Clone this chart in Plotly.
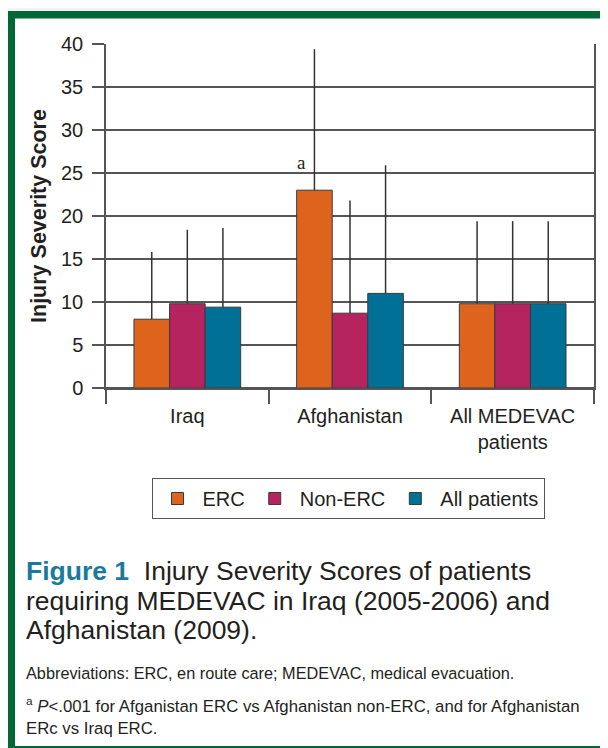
import plotly.graph_objects as go

# ---------------- data ----------------
categories = ["Iraq", "Afghanistan", "All MEDEVAC<br>patients"]
series_names = ["ERC", "Non-ERC", "All patients"]
erc_mean = [8.0, 23.0, 9.8]
nonerc_mean = [9.8, 8.7, 9.8]
all_mean = [9.4, 11.0, 9.8]
erc_upper = [15.8, 39.4, 19.4]
nonerc_upper = [18.4, 21.8, 19.4]
all_upper = [18.6, 25.9, 19.4]
y_ticks = [0, 5, 10, 15, 20, 25, 30, 35, 40]

colors = ["#DE641E", "#B5245E", "#007096"]
ink = "#231f20"
gridc = "#555555"

CHART_FONT = "Liberation Sans, Arial, sans-serif"

W, H = 608, 748
OFF = 8  # page body margin: page pixel = figure pixel + OFF
ML = 106 - OFF
MT = 44 - OFF
MR = W - (594 - OFF)
MB = H - (388 - OFF)
PW, PH = W - ML - MR, H - MT - MB


def px(xp):
    """page x pixel -> paper coordinate"""
    return (xp - OFF - ML) / PW


def py(yp):
    """page y pixel -> paper coordinate"""
    return (H - MB - (yp - OFF)) / PH


fig = go.Figure()
for name, mean, upper, col in zip(series_names,
                                  [erc_mean, nonerc_mean, all_mean],
                                  [erc_upper, nonerc_upper, all_upper],
                                  colors):
    fig.add_trace(go.Bar(
        x=categories, y=mean, name=name,
        marker=dict(color=col, line=dict(color="#3a3a3a", width=1)),
        error_y=dict(type="data", symmetric=False,
                     array=[u - m for u, m in zip(upper, mean)],
                     arrayminus=[0] * len(mean),
                     color="#333333", thickness=1.5, width=0),
    ))

# significance marker
fig.add_annotation(x=categories[1], y=26.2, xref="x", yref="y", text="a",
                   showarrow=False, xshift=-49,
                   font=dict(family="Liberation Serif, serif", size=19, color=ink))

# frame shapes
shapes = [
    dict(type="rect", xref="paper", yref="paper", x0=px(7), x1=px(700),
         y0=py(11), y1=py(760), fillcolor="#006838", line=dict(width=0),
         layer="below"),
    dict(type="rect", xref="paper", yref="paper", x0=px(15), x1=px(700),
         y0=py(18.5), y1=py(746), fillcolor="white", line=dict(width=0),
         layer="below"),
]

# caption
cap_lines = [
    ("<b><span style='color:#1A7A9E'>Figure 1</span></b>\u00a0\u00a0Injury Severity Scores of patients", 571),
    ("requiring MEDEVAC in Iraq (2005-2006) and", 601),
    ("Afghanistan (2009).", 630),
]
for txt, yc in cap_lines:
    fig.add_annotation(xref="paper", yref="paper", x=px(24), y=py(yc),
                       xanchor="left", yanchor="middle", text=txt,
                       showarrow=False,
                       font=dict(family=CHART_FONT, size=26.5, color=ink))

notes = [
    ("Abbreviations: ERC, en route care; MEDEVAC, medical evacuation.", 673, 16.3),
    ("<sup>a</sup> <i>P</i>&lt;.001 for Afganistan ERC vs Afghanistan non-ERC, and for Afghanistan", 705, 16.8),
    ("ERc vs Iraq ERC.", 728, 16.8),
]
for txt, yc, fs in notes:
    fig.add_annotation(xref="paper", yref="paper", x=px(24), y=py(yc),
                       xanchor="left", yanchor="middle", text=txt,
                       showarrow=False,
                       font=dict(family=CHART_FONT, size=fs, color=ink))

fig.update_layout(
    width=W, height=H,
    margin=dict(l=ML, r=MR, t=MT, b=MB, autoexpand=False),
    paper_bgcolor="#f3f3f3",
    plot_bgcolor="white",
    barmode="group",
    bargap=0.344,
    bargroupgap=0,
    font=dict(family=CHART_FONT, size=20, color=ink),
    shapes=shapes,
    showlegend=True,
    legend=dict(orientation="h", x=px(348), xanchor="center",
                y=py(478), yanchor="top", itemwidth=40,
                bordercolor="#555555", borderwidth=1, bgcolor="white",
                font=dict(family=CHART_FONT, size=20, color=ink),
                traceorder="normal"),
)

fig.update_xaxes(
    type="category", tickson="boundaries", ticks="outside", ticklen=14,
    tickwidth=1.5, tickcolor=gridc, showline=True, linecolor=gridc,
    linewidth=1.5, showgrid=False, ticklabelstandoff=9,
    tickfont=dict(family=CHART_FONT, size=20, color=ink),
)
fig.update_yaxes(
    range=[0, 40], tickvals=y_ticks, showgrid=True, gridcolor=gridc,
    gridwidth=1.5, zeroline=True, zerolinecolor=gridc, zerolinewidth=1.5,
    ticks="outside", ticklen=12, tickwidth=1.5, tickcolor=gridc,
    showline=True, linecolor=gridc, linewidth=1.5, mirror=True,
    ticklabelstandoff=5,
    tickfont=dict(family=CHART_FONT, size=20, color=ink),
    title=dict(text="<b>Injury Severity Score</b>", standoff=8,
               font=dict(family=CHART_FONT, size=21.5, color=ink)),
)

fig.write_html("out.html")
